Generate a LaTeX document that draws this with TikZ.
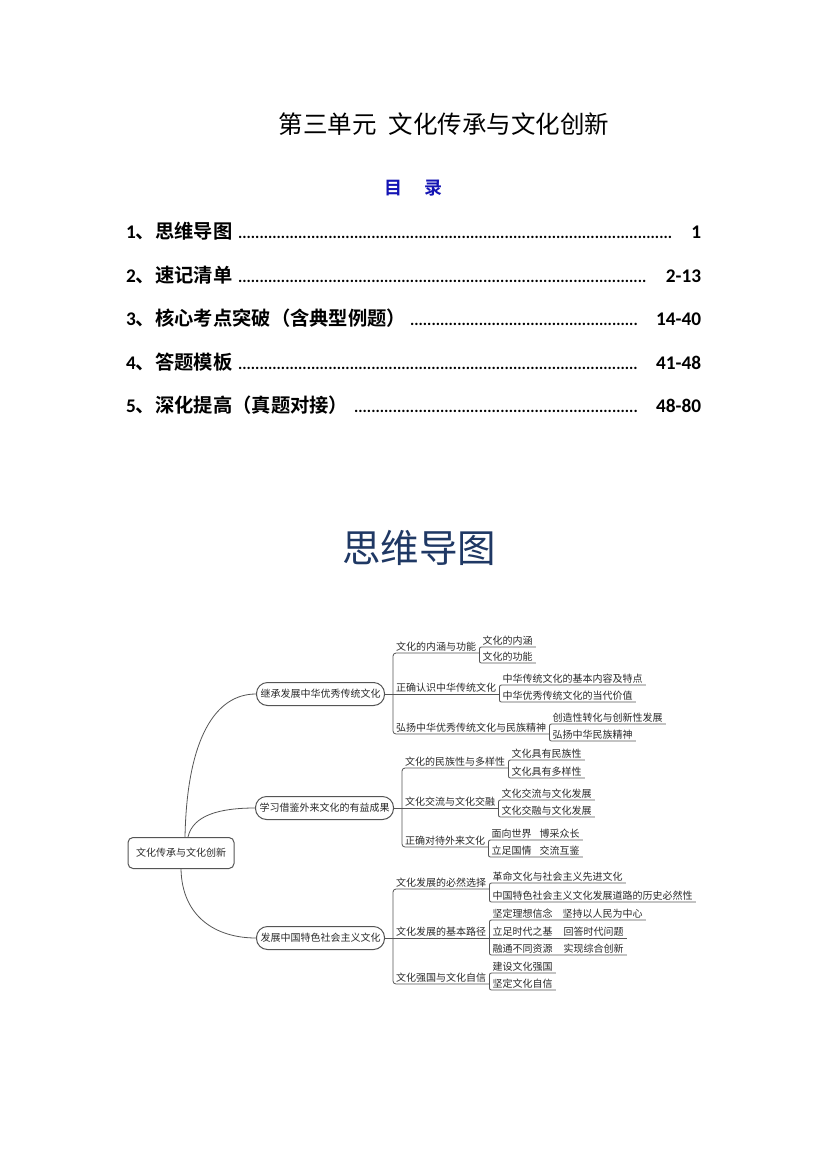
\documentclass[tikz,border=0pt]{standalone}
\usepackage{fontspec}
\newfontfamily\cjk{Noto Sans CJK SC}[BoldFont={Noto Sans CJK SC Bold}]
\newfontfamily\carl{Carlito}
\definecolor{mmline}{HTML}{555555}
\definecolor{mmtext}{HTML}{2A2A2A}
\definecolor{tocblue}{HTML}{1414B4}
\definecolor{headblue}{HTML}{1F3864}
\newcommand{\tocdots}{\leaders\hbox to 4.3pt{\hss\carl\bfseries\fontsize{16}{16}\selectfont.\hss}\hfill}
\newcommand{\tocentry}[2]{\hbox to 575pt{#1\hspace{2pt}\tocdots\hspace{18pt}{\carl\bfseries #2}}}
\begin{document}
\begin{tikzpicture}[x=1pt,y=-1pt,
  mmfont/.style={font=\cjk\fontsize{10}{12}\selectfont, text=mmtext},
  rootbox/.style={mmfont, draw=mmline, line width=1pt, rounded corners=5pt, minimum width=106pt, minimum height=31pt, inner sep=0pt},
  brbox/.style={mmfont, draw=mmline, line width=1pt, rounded corners=11pt, minimum height=23pt, inner xsep=4pt, inner ysep=0pt},
  lab/.style={mmfont, anchor=south west, inner xsep=3pt, inner ysep=1pt, text height=8.5pt, text depth=1pt},
  conn/.style={draw=mmline, line width=0.8pt},
  toc/.style={anchor=west, inner sep=0pt, font=\cjk\bfseries\fontsize{19.3}{19}\selectfont}]
\fill[white] (0,0) rectangle (827,1169);
\useasboundingbox (0,0) rectangle (827,1169);

% Title and TOC
\node[font=\cjk\fontsize{24.5}{25}\selectfont] (title) at (444,124) {第三单元\hspace{0.5em}文化传承与文化创新};
\node[font=\cjk\bfseries\fontsize{18}{18}\selectfont, text=tocblue] (mulu) at (413,188) {目\hspace{22pt}录};

\node[toc] (t1) at (126,231) {\tocentry{{\carl 1}、思维导图}{1}};
\node[toc] (t2) at (126,275) {\tocentry{{\carl 2}、速记清单}{2-13}};
\node[toc] (t3) at (126,318) {\tocentry{{\carl 3}、核心考点突破（含典型例题）}{14-40}};
\node[toc] (t4) at (126,362) {\tocentry{{\carl 4}、答题模板}{41-48}};
\node[toc] (t5) at (126,405) {\tocentry{{\carl 5}、深化提高（真题对接）}{48-80}};

\node[font=\cjk\fontsize{38.5}{40}\selectfont, text=headblue] (head) at (419,548) {思维导图};

% Mind map
\node[rootbox] (root) at (181,853) {文化传承与文化创新};
\node[brbox, anchor=west] (b1) at (256,694) {继承发展中华优秀传统文化};
\node[brbox, anchor=west] (b2) at (255,808) {学习借鉴外来文化的有益成果};
\node[brbox, anchor=west] (b3) at (256,938) {发展中国特色社会主义文化};

\draw[conn] ([xshift=4pt]root.north) .. controls ([xshift=6pt,yshift=100pt]root.north) and ([xshift=-40pt]b1.west) .. (b1.west);
\draw[conn] ([xshift=7pt]root.north) .. controls ([xshift=12pt,yshift=22pt]root.north) and ([xshift=-35pt]b2.west) .. (b2.west);
\draw[conn] (root.south) .. controls ([xshift=1pt,yshift=-48pt]root.south) and ([xshift=-40pt]b3.west) .. (b3.west);

% Branch 1
\node[lab] (s11) at (393,653) {文化的内涵与功能};
\node[lab] (s12) at (393,694) {正确认识中华传统文化};
\node[lab] (s13) at (393,734) {弘扬中华优秀传统文化与民族精神};
\node[lab] (l111) at ([yshift=6pt]s11.south east) {文化的内涵};
\node[lab] (l112) at ([yshift=-10pt]s11.south east) {文化的功能};
\node[lab] (l121) at ([yshift=9pt]s12.south east) {中华传统文化的基本内容及特点};
\node[lab] (l122) at ([yshift=-8pt]s12.south east) {中华优秀传统文化的当代价值};
\node[lab] (l131) at ([yshift=10pt]s13.south east) {创造性转化与创新性发展};
\node[lab] (l132) at ([yshift=-7pt]s13.south east) {弘扬中华民族精神};

\draw[conn] (b1.east) -- (s12.south west);
\draw[conn, rounded corners=3pt] (s11.south east) -- (s11.south west) -- (s13.south west) -- (s13.south east);
\draw[conn] (s12.south west) -- (s12.south east);
\draw[conn, rounded corners=2pt] (l111.south east) -- (l111.south west) -- (l112.south west) -- (l112.south east);
\draw[conn, rounded corners=2pt] (l121.south east) -- (l121.south west) -- (l122.south west) -- (l122.south east);
\draw[conn, rounded corners=2pt] (l131.south east) -- (l131.south west) -- (l132.south west) -- (l132.south east);

% Branch 2
\node[lab] (s21) at (402,768) {文化的民族性与多样性};
\node[lab] (s22) at (402,808) {文化交流与文化交融};
\node[lab] (s23) at (402,847) {正确对待外来文化};
\node[lab] (l211) at ([yshift=8pt]s21.south east) {文化具有民族性};
\node[lab] (l212) at ([yshift=-10pt]s21.south east) {文化具有多样性};
\node[lab] (l221) at ([yshift=8pt]s22.south east) {文化交流与文化发展};
\node[lab] (l222) at ([yshift=-9pt]s22.south east) {文化交融与文化发展};
\node[lab] (l231) at ([yshift=7pt]s23.south east) {面向世界\hspace{0.8em}博采众长};
\node[lab] (l232) at ([yshift=-10pt]s23.south east) {立足国情\hspace{0.8em}交流互鉴};

\draw[conn] (b2.east) -- (s22.south west);
\draw[conn, rounded corners=3pt] (s21.south east) -- (s21.south west) -- (s23.south west) -- (s23.south east);
\draw[conn] (s22.south west) -- (s22.south east);
\draw[conn, rounded corners=2pt] (l211.south east) -- (l211.south west) -- (l212.south west) -- (l212.south east);
\draw[conn, rounded corners=2pt] (l221.south east) -- (l221.south west) -- (l222.south west) -- (l222.south east);
\draw[conn, rounded corners=2pt] (l231.south east) -- (l231.south west) -- (l232.south west) -- (l232.south east);

% Branch 3
\node[lab] (s31) at (393,889) {文化发展的必然选择};
\node[lab] (s32) at (393,938) {文化发展的基本路径};
\node[lab] (s33) at (393,984) {文化强国与文化自信};
\node[lab] (l311) at ([yshift=6pt]s31.south east) {革命文化与社会主义先进文化};
\node[lab] (l312) at ([yshift=-13pt]s31.south east) {中国特色社会主义文化发展道路的历史必然性};
\node[lab] (l321) at ([yshift=18pt]s32.south east) {坚定理想信念\hspace{1em}坚持以人民为中心};
\node[lab] (l322) at (s32.south east) {立足时代之基\hspace{1.1em}回答时代问题};
\node[lab] (l323) at ([yshift=-17pt]s32.south east) {融通不同资源\hspace{1.1em}实现综合创新};
\node[lab] (l331) at ([yshift=11pt]s33.south east) {建设文化强国};
\node[lab] (l332) at ([yshift=-6pt]s33.south east) {坚定文化自信};

\draw[conn] (b3.east) -- (s32.south west);
\draw[conn, rounded corners=3pt] (s31.south east) -- (s31.south west) -- (s33.south west) -- (s33.south east);
\draw[conn] (s32.south west) -- (s32.south east);
\draw[conn, rounded corners=2pt] (l311.south east) -- (l311.south west) -- (l312.south west) -- (l312.south east);
\draw[conn, rounded corners=2pt] (l321.south east) -- (l321.south west) -- (l323.south west) -- (l323.south east);
\draw[conn] (l322.south west) -- (l322.south east);
\draw[conn, rounded corners=2pt] (l331.south east) -- (l331.south west) -- (l332.south west) -- (l332.south east);
\end{tikzpicture}
\end{document}
